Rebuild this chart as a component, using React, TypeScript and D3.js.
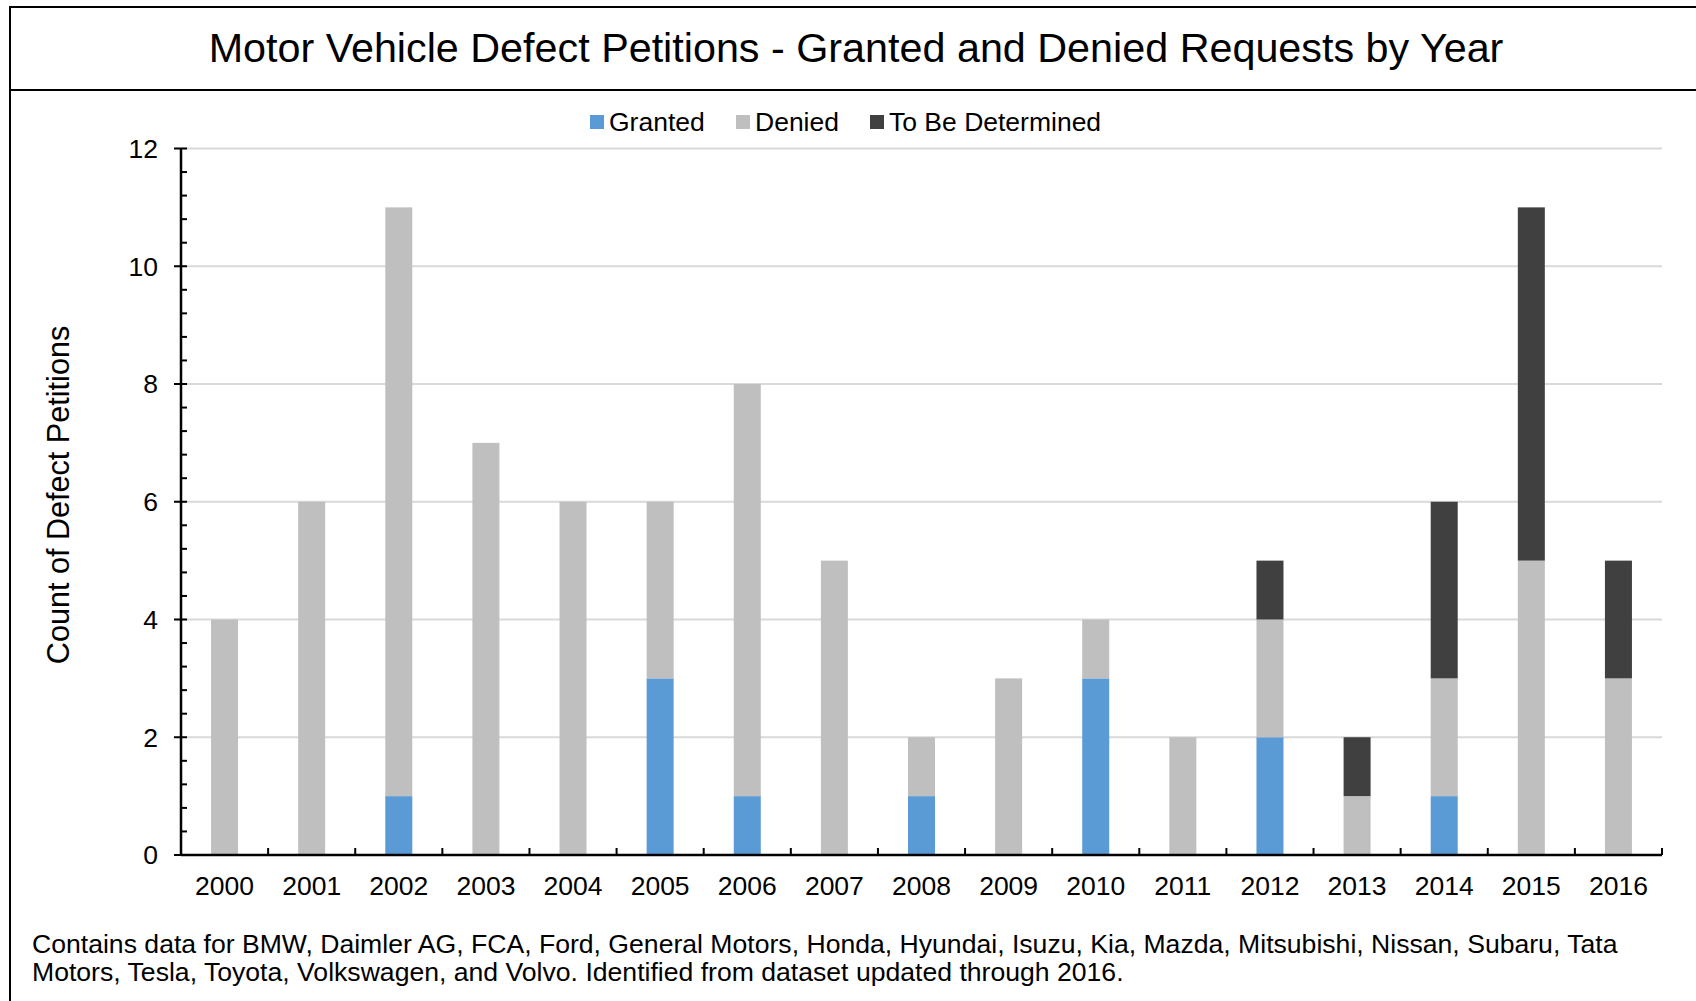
import React from "react";
import * as d3 from "d3";

const years = ["2000","2001","2002","2003","2004","2005","2006","2007","2008","2009","2010","2011","2012","2013","2014","2015","2016"];
const granted = [0,0,1,0,0,3,1,0,1,0,3,0,2,0,1,0,0];
const denied = [4,6,10,7,6,3,7,5,1,3,1,2,2,1,2,5,3];
const toBeDetermined = [0,0,0,0,0,0,0,0,0,0,0,0,1,1,3,6,2];
const seriesNames = ["Granted","Denied","To Be Determined"];
const seriesColors = ["#5B9BD5","#BFBFBF","#404040"];
const yTicks = [0,2,4,6,8,10,12];
const titleText = "Motor Vehicle Defect Petitions - Granted and Denied Requests by Year";
const yLabel = "Count of Defect Petitions";
const footnote = [
  "Contains data for BMW, Daimler AG, FCA, Ford, General Motors, Honda, Hyundai, Isuzu, Kia, Mazda, Mitsubishi, Nissan, Subaru, Tata",
  "Motors, Tesla, Toyota, Volkswagen, and Volvo. Identified from dataset updated through 2016.",
];

const W = 1696, H = 1001;
const FONT = "'Liberation Sans', Arial, Helvetica, sans-serif";

export default function App() {
  const left = 181, right = 1662, top = 148.5, bottom = 855;
  const x = d3.scaleBand<string>().domain(years).range([left, right]).padding(0);
  const y = d3.scaleLinear().domain([0, 12]).range([bottom, top]);
  const barW = x.step() * 0.31;

  const rows = years.map((yr, i) => ({ year: yr, Granted: granted[i], Denied: denied[i], "To Be Determined": toBeDetermined[i] }));
  const stack = d3.stack<any>().keys(seriesNames)(rows);

  const minorTicks = d3.range(0, 12.0001, 0.4).filter(v => Math.abs(v / 2 - Math.round(v / 2)) > 1e-6);

  const legendItems = [
    { name: "Granted", sx: 590, tx: 609 },
    { name: "Denied", sx: 736, tx: 755 },
    { name: "To Be Determined", sx: 870, tx: 889 },
  ];
  const fs = 26.5;

  return (
    <svg width={W} height={H} style={{ position: "absolute", left: 0, top: 0, background: "#fff" }} fontFamily={FONT}>
      <rect x={0} y={0} width={W} height={H} fill="#fff" />
      {/* frame */}
      <rect x={10} y={7} width={W + 20} height={H + 20} fill="none" stroke="#000" strokeWidth={2} />
      <line x1={10} x2={W} y1={90} y2={90} stroke="#000" strokeWidth={2} />
      <text x={856} y={62} textAnchor="middle" fontSize={41.3} fill="#000">{titleText}</text>

      {/* legend */}
      {legendItems.map((it, i) => (
        <g key={it.name}>
          <rect x={it.sx} y={115} width={14} height={14} fill={seriesColors[i]} />
          <text x={it.tx} y={122} dy="0.35em" fontSize={fs} fill="#000">{it.name}</text>
        </g>
      ))}

      {/* gridlines */}
      {yTicks.filter(v => v > 0).map(v => (
        <line key={v} x1={left} x2={right} y1={y(v)} y2={y(v)} stroke="#D9D9D9" strokeWidth={2} />
      ))}

      {/* bars */}
      {stack.map((s, si) => (
        <g key={s.key} fill={seriesColors[si]}>
          {s.map((d, i) => d[1] - d[0] > 0 ? (
            <rect key={i} x={(x(years[i]) as number) + x.step() / 2 - barW / 2} y={y(d[1])} width={barW} height={y(d[0]) - y(d[1])} />
          ) : null)}
        </g>
      ))}

      {/* y axis */}
      <line x1={left} x2={left} y1={top} y2={bottom} stroke="#000" strokeWidth={2.5} />
      {yTicks.map(v => (
        <g key={v}>
          <line x1={left - 7} x2={left + 6} y1={y(v)} y2={y(v)} stroke="#000" strokeWidth={2} />
          <text x={158} y={y(v)} dy="0.35em" textAnchor="end" fontSize={fs} fill="#000">{v}</text>
        </g>
      ))}
      {minorTicks.map(v => (
        <line key={"m" + v} x1={left} x2={left + 6} y1={y(v)} y2={y(v)} stroke="#000" strokeWidth={2} />
      ))}

      {/* x axis */}
      <line x1={left} x2={right} y1={bottom} y2={bottom} stroke="#000" strokeWidth={2.5} />
      {years.map((yr, i) => (
        <line key={"t" + yr} x1={(x(yr) as number) + x.step()} x2={(x(yr) as number) + x.step()} y1={bottom} y2={bottom - 7} stroke="#000" strokeWidth={2} />
      ))}
      {years.map(yr => (
        <text key={yr} x={(x(yr) as number) + x.step() / 2} y={886} dy="0.35em" textAnchor="middle" fontSize={fs} fill="#000">{yr}</text>
      ))}

      {/* y label */}
      <text transform={`translate(68.5,495) rotate(-90)`} textAnchor="middle" fontSize={30.6} fill="#000">{yLabel}</text>

      {/* footnote */}
      {footnote.map((t, i) => (
        <text key={i} x={32} y={953 + i * 27.5} fontSize={26.6} fill="#000">{t}</text>
      ))}
    </svg>
  );
}
